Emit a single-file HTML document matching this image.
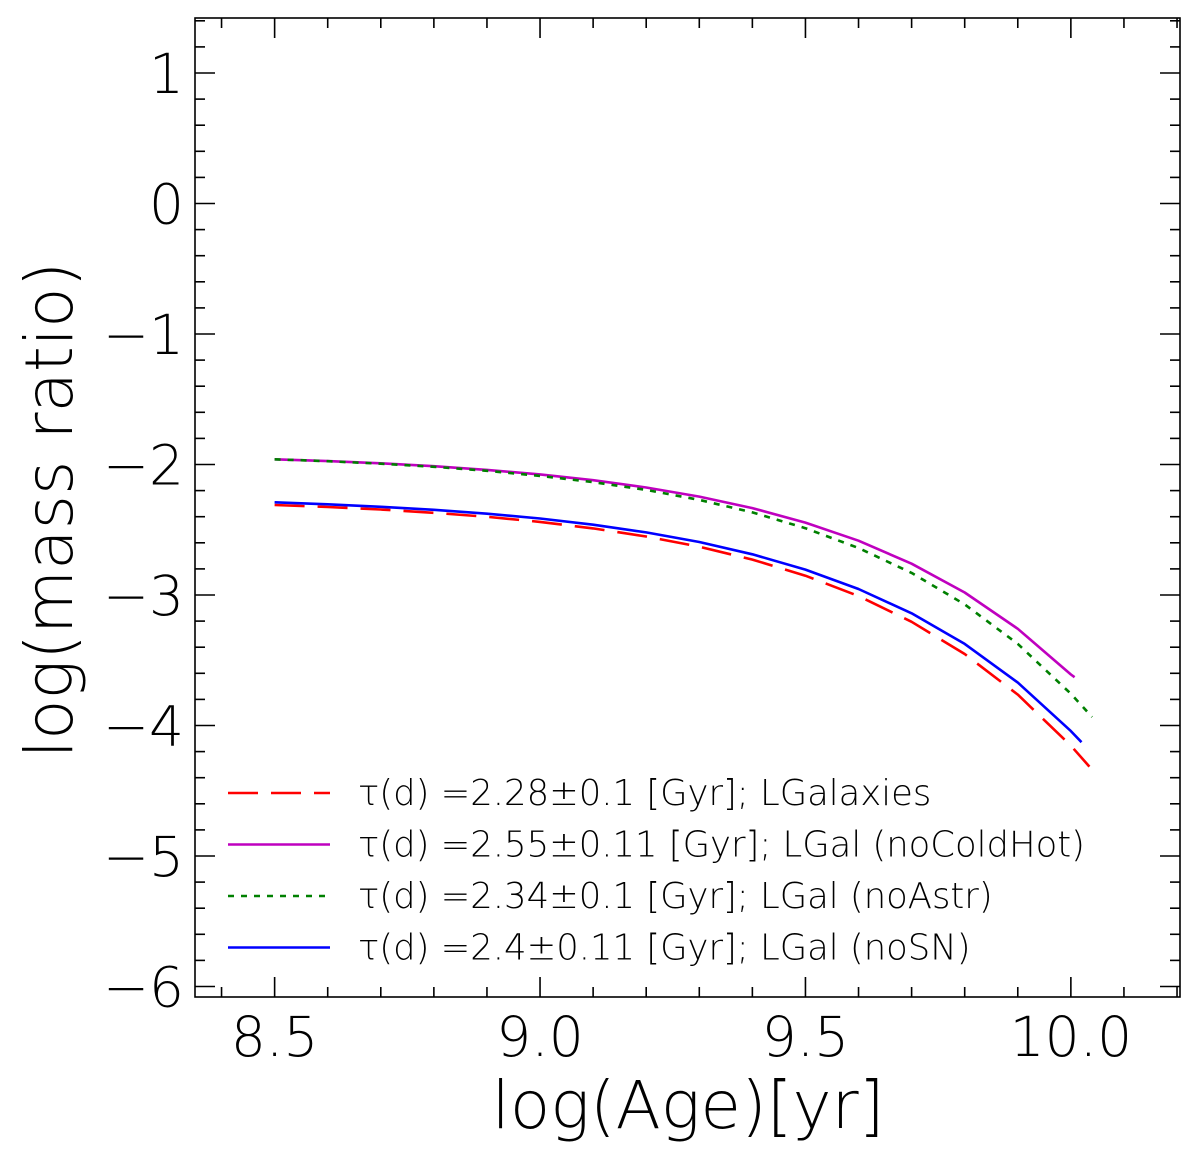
<!DOCTYPE html>
<html><head><meta charset="utf-8"><style>
html,body{margin:0;padding:0;background:#fff;}
svg{display:block;font-family:"DejaVu Sans ExtraLight","DejaVu Sans","Liberation Sans",sans-serif;font-weight:200;}
</style></head><body>
<svg id="chart" width="1200" height="1164" viewBox="0 0 1200 1164">
<g id="ticks"></g>
<g id="lines"></g>
<rect x="195" y="18" width="985" height="979" fill="none" stroke="#000" stroke-width="1.6"/>
<text x="688" y="1128" font-size="66" text-anchor="middle" fill="#000">log(Age)[yr]</text>
<text transform="translate(72,510) rotate(-90)" font-size="66" text-anchor="middle" fill="#000">log(mass ratio)</text>
<g id="legend"></g>
</svg>
<script>
const xTicks=[8.5,9.0,9.5,10.0];
const xTickLabels=["8.5","9.0","9.5","10.0"];
const yTicks=[1,0,-1,-2,-3,-4,-5,-6];
const yTickLabels=["1","0","\u22121","\u22122","\u22123","\u22124","\u22125","\u22126"];
const xRed=[8.5,8.6,8.7,8.8,8.9,9.0,9.1,9.2,9.3,9.4,9.5,9.6,9.7,9.8,9.9,10.0,10.035];
const yRed=[-2.310,-2.326,-2.345,-2.370,-2.401,-2.440,-2.490,-2.552,-2.630,-2.729,-2.852,-3.008,-3.205,-3.452,-3.763,-4.155,-4.315];
const xMag=[8.5,8.6,8.7,8.8,8.9,9.0,9.1,9.2,9.3,9.4,9.5,9.6,9.7,9.8,9.9,10.0,10.007];
const yMag=[-1.960,-1.974,-1.991,-2.013,-2.041,-2.076,-2.120,-2.176,-2.246,-2.334,-2.445,-2.584,-2.760,-2.981,-3.259,-3.609,-3.63];
const xGreen=[8.5,8.6,8.7,8.8,8.9,9.0,9.1,9.2,9.3,9.4,9.5,9.6,9.7,9.8,9.9,10.0,10.04];
const yGreen=[-1.960,-1.975,-1.994,-2.018,-2.048,-2.087,-2.135,-2.195,-2.271,-2.367,-2.488,-2.640,-2.831,-3.072,-3.375,-3.757,-3.935];
const xBlue=[8.5,8.6,8.7,8.8,8.9,9.0,9.1,9.2,9.3,9.4,9.5,9.6,9.7,9.8,9.9,10.0,10.02];
const yBlue=[-2.290,-2.305,-2.324,-2.347,-2.377,-2.414,-2.461,-2.520,-2.594,-2.688,-2.805,-2.954,-3.140,-3.375,-3.671,-4.043,-4.128];
const legendLabels=["\u03c4(d) =2.28\u00b10.1 [Gyr]; LGalaxies","\u03c4(d) =2.55\u00b10.11 [Gyr]; LGal (noColdHot)","\u03c4(d) =2.34\u00b10.1 [Gyr]; LGal (noAstr)","\u03c4(d) =2.4\u00b10.11 [Gyr]; LGal (noSN)"];

const L=195,R=1180,T=18,B=997;
const X0=8.35,X1=10.2056,Y0=-6.0805,Y1=1.4215;
const sx=v=>L+(v-X0)/(X1-X0)*(R-L);
const sy=v=>B-(v-Y0)/(Y1-Y0)*(B-T);
const NS="http://www.w3.org/2000/svg";
function mk(tag,attrs,parent){const e=document.createElementNS(NS,tag);for(const k in attrs)e.setAttribute(k,attrs[k]);parent.appendChild(e);return e;}
const tg=document.getElementById('ticks');
function tick(x1,y1,x2,y2){const l=mk('line',{x1:x1,y1:y1,x2:x2,y2:y2,stroke:'#000','stroke-width':1.6},tg);

}
for(let i=84;i<=102;i++){const v=i/10;const x=sx(v);const major=xTicks.some(t=>Math.abs(t-v)<1e-6);const len=major?20:10;
tick(x,B,x,B-len);tick(x,T,x,T+len);}
for(let i=-30;i<=7;i++){const v=i/5;const y=sy(v);if(y<T||y>B)continue;const major=yTicks.some(t=>Math.abs(t-v)<1e-6);const len=major?20:10;
tick(L,y,L+len,y);tick(R,y,R-len,y);}
xTicks.forEach((v,i)=>{const t=mk('text',{x:sx(v),y:1056,'font-size':55,'text-anchor':'middle',fill:'#000'},tg);t.textContent=xTickLabels[i];

});
yTicks.forEach((v,i)=>{const t=mk('text',{x:184,y:sy(v)+20,'font-size':55,'text-anchor':'end',fill:'#000'},tg);t.textContent=yTickLabels[i];

});
const series=[
 {xs:xRed,ys:yRed,c:'#ff0000',d:'30,13',n:'line-lgalaxies'},
 {xs:xMag,ys:yMag,c:'#bf00bf',d:'',n:'line-nocoldhot'},
 {xs:xGreen,ys:yGreen,c:'#008000',d:'6,7',n:'line-noastr'},
 {xs:xBlue,ys:yBlue,c:'#0000ff',d:'',n:'line-nosn'}];
const lg=document.getElementById('lines'),leg=document.getElementById('legend');
series.forEach((s,i)=>{
 const pts=s.xs.map((x,j)=>sx(x).toFixed(1)+','+sy(s.ys[j]).toFixed(1)).join(' ');
 const p=mk('polyline',{points:pts,fill:'none',stroke:s.c,'stroke-width':2.6,'stroke-linejoin':'round','stroke-dasharray':s.d||'none'},lg);
 
 
 const y=793+i*51.5;
 const l=mk('line',{x1:228,y1:y,x2:330,y2:y,stroke:s.c,'stroke-width':2.6,'stroke-dasharray':s.d||'none'},leg);
 
 
 const t=mk('text',{x:358,y:y+12,'font-size':35.4,fill:'#000'},leg);t.textContent=legendLabels[i];
 
 
});
</script>
</body></html>
